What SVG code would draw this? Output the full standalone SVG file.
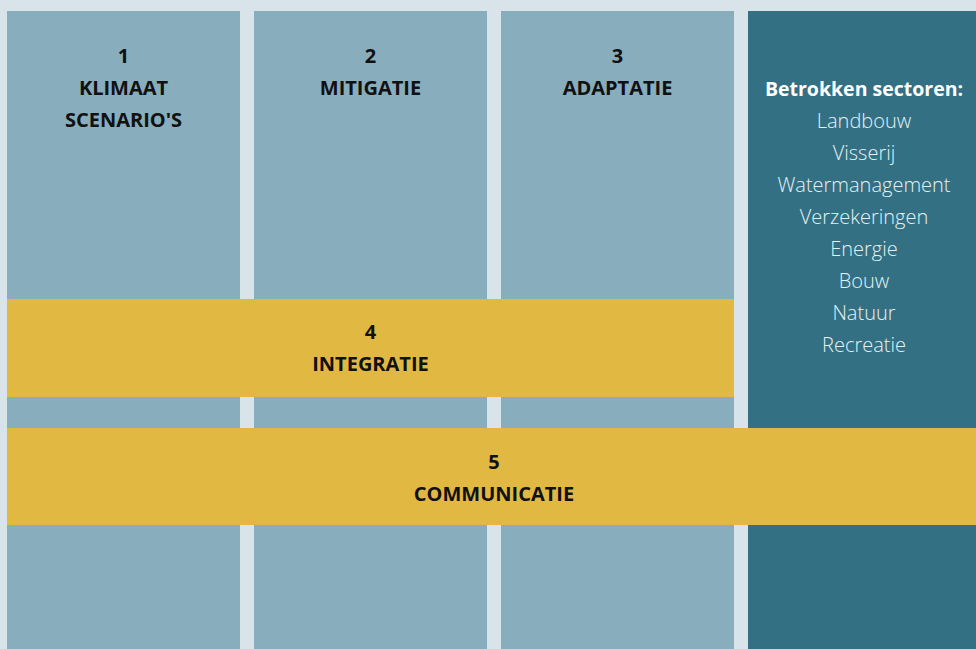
<svg xmlns="http://www.w3.org/2000/svg" width="976" height="649" viewBox="0 0 976 649">
  <style>
    .col { fill: #88adbd; }
    .sect { fill: #337083; }
    .band { fill: #e1b842; }
    .lbl { font-family: "Open Sans", "Noto Sans", "Liberation Sans", sans-serif; font-size: 20px; font-weight: 700; fill: #111111; text-anchor: middle; }
    .head { font-family: "Open Sans", "Noto Sans", "Liberation Sans", sans-serif; font-size: 19.5px; font-weight: 700; fill: #ffffff; text-anchor: middle; }
    .item { font-family: "Open Sans", "Noto Sans", "Liberation Sans", sans-serif; font-size: 20px; font-weight: 300; fill: #e6f0f3; text-anchor: middle; }
  </style>
  <rect width="976" height="649" fill="#d9e4ea"/>

  <g id="klimaat">
    <rect class="col" x="7" y="11" width="233" height="638"/>
    <text class="lbl" x="123.5" y="63">1</text>
    <text class="lbl" x="123.5" y="95">KLIMAAT</text>
    <text class="lbl" x="123.5" y="127">SCENARIO'S</text>
  </g>

  <g id="mitigatie">
    <rect class="col" x="254" y="11" width="233" height="638"/>
    <text class="lbl" x="370.5" y="63">2</text>
    <text class="lbl" x="370.5" y="95">MITIGATIE</text>
  </g>

  <g id="adaptatie">
    <rect class="col" x="501" y="11" width="233" height="638"/>
    <text class="lbl" x="617.5" y="63">3</text>
    <text class="lbl" x="617.5" y="95">ADAPTATIE</text>
  </g>

  <g id="sectoren">
    <rect class="sect" x="748" y="11" width="228" height="638"/>
    <text class="head" x="864" y="96">Betrokken sectoren:</text>
    <text class="item" x="864" y="128">Landbouw</text>
    <text class="item" x="864" y="160">Visserij</text>
    <text class="item" x="864" y="192">Watermanagement</text>
    <text class="item" x="864" y="224">Verzekeringen</text>
    <text class="item" x="864" y="256">Energie</text>
    <text class="item" x="864" y="288">Bouw</text>
    <text class="item" x="864" y="320">Natuur</text>
    <text class="item" x="864" y="352">Recreatie</text>
  </g>

  <g id="integratie">
    <rect class="band" x="7" y="299" width="727" height="98"/>
    <text class="lbl" x="370.5" y="339">4</text>
    <text class="lbl" x="370.5" y="371">INTEGRATIE</text>
  </g>

  <g id="communicatie">
    <rect class="band" x="7" y="428" width="969" height="97"/>
    <text class="lbl" x="494" y="469">5</text>
    <text class="lbl" x="494" y="501">COMMUNICATIE</text>
  </g>

  <g id="connectors"/>
</svg>
